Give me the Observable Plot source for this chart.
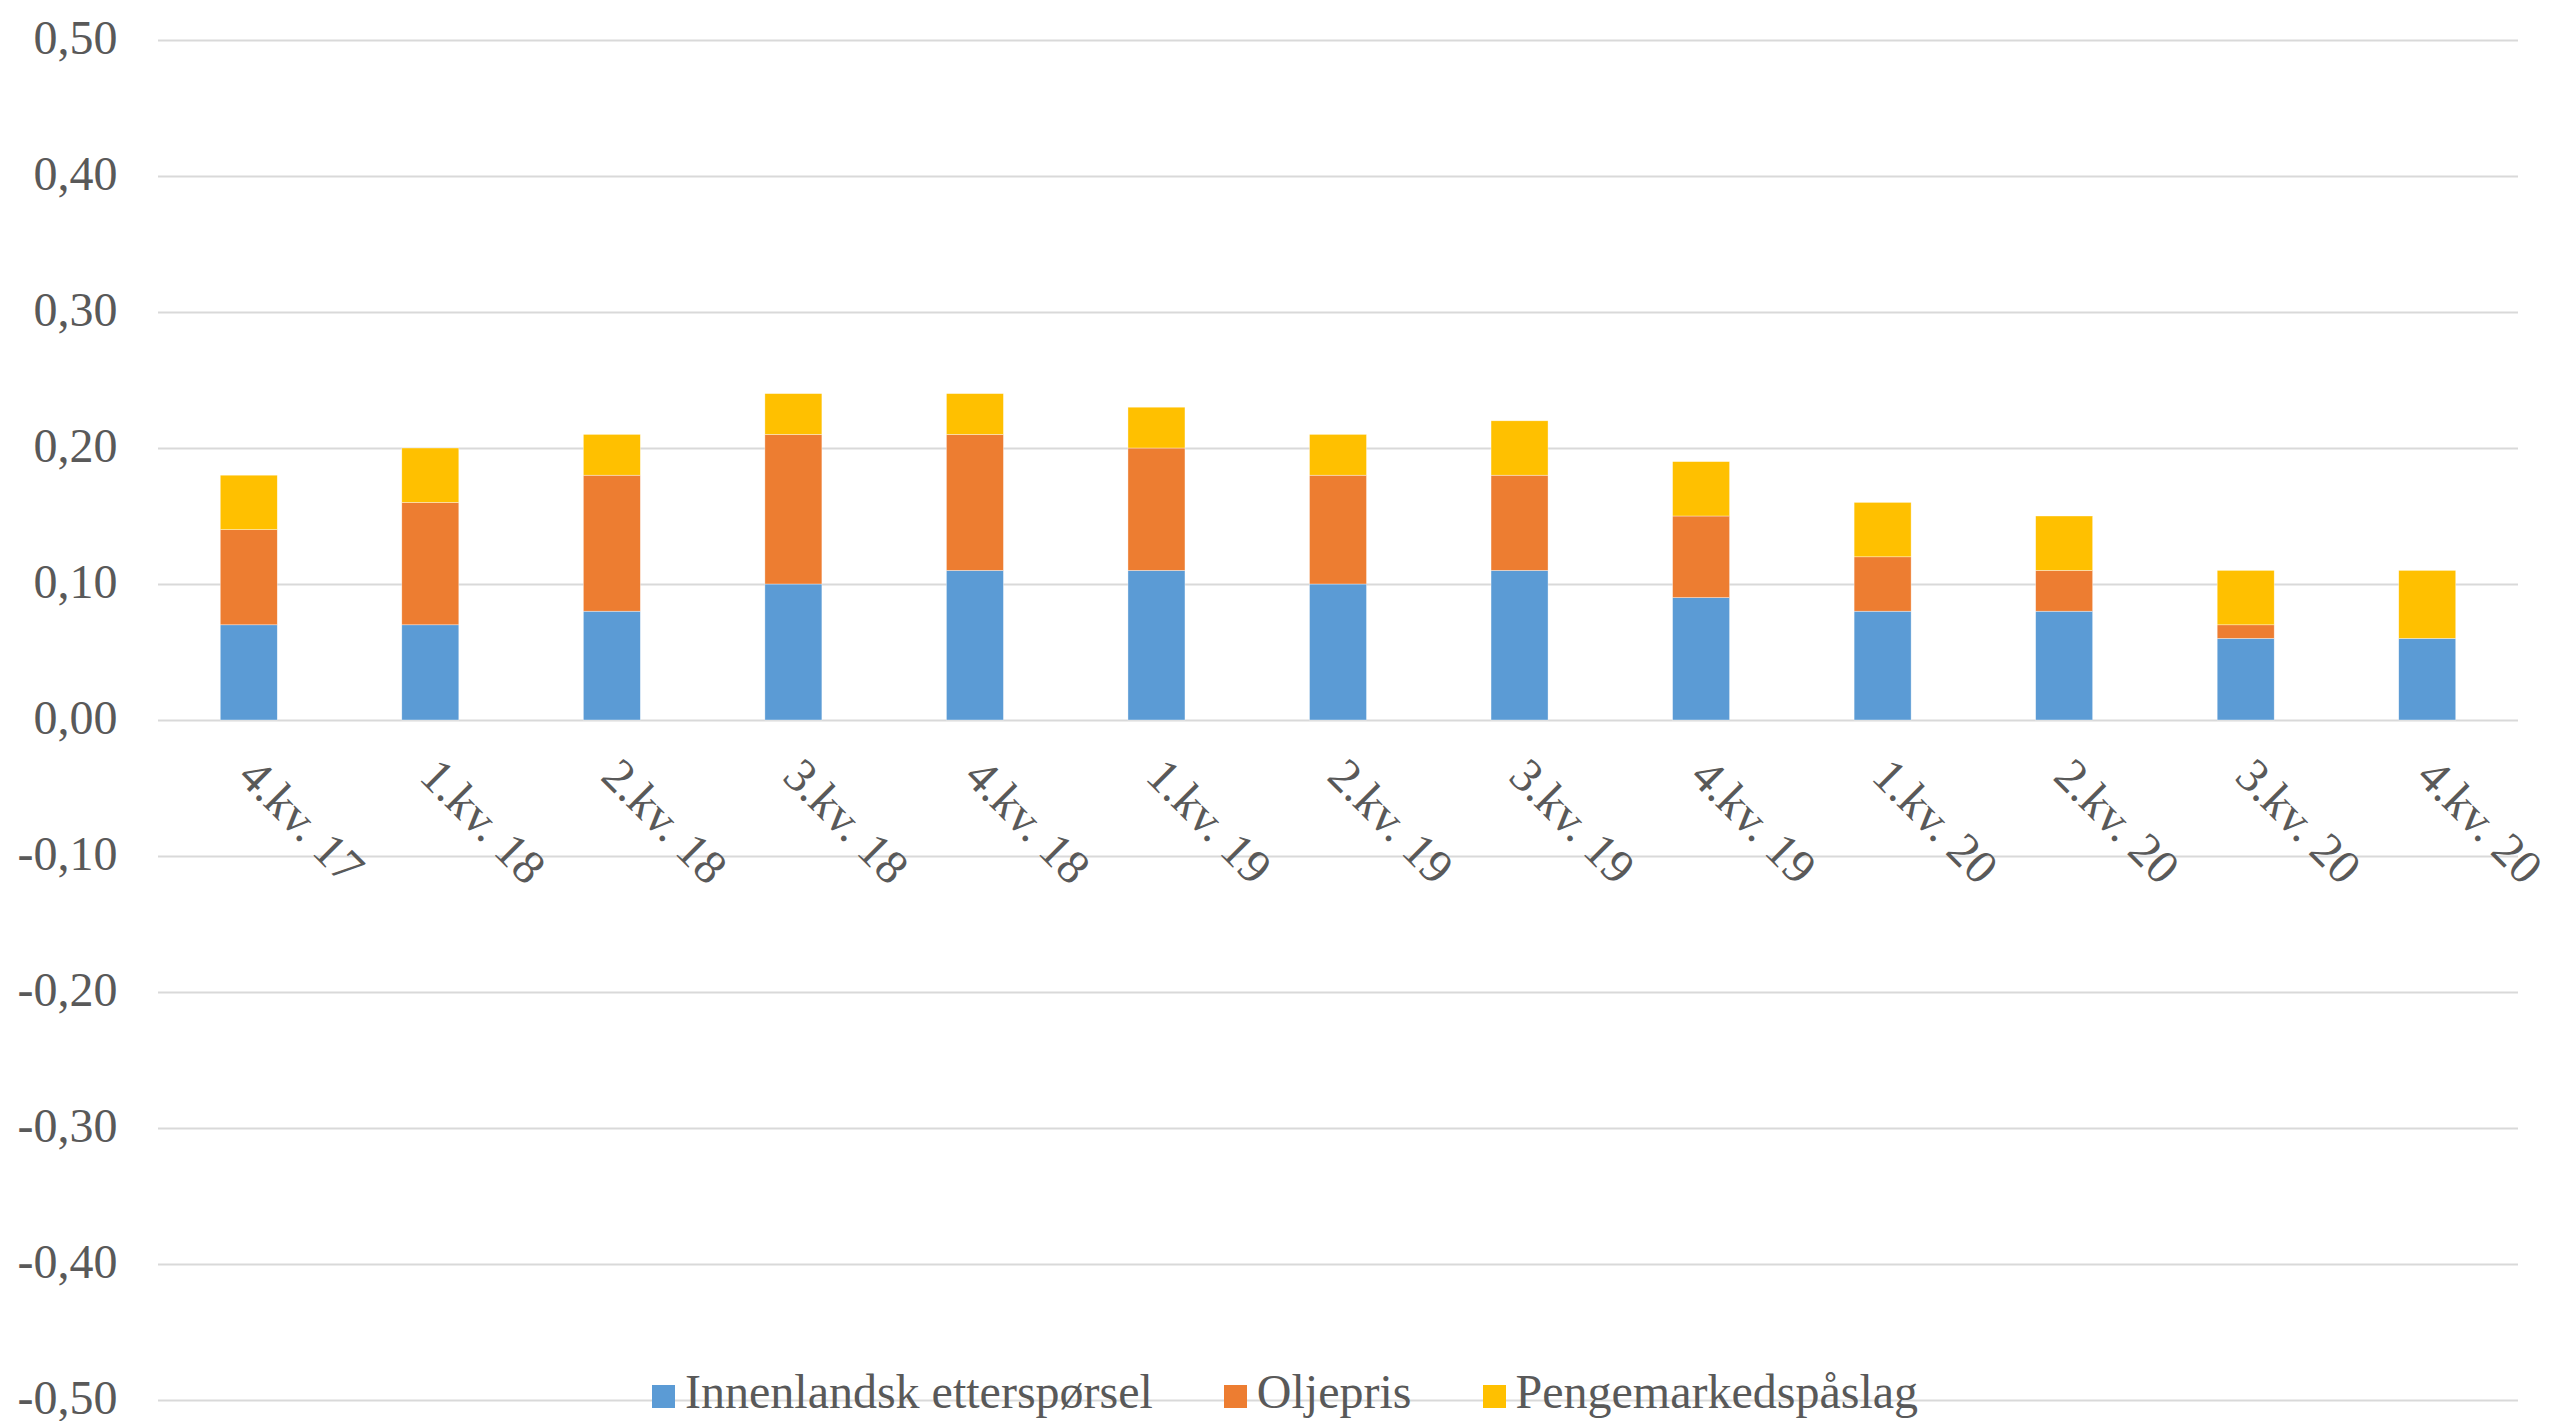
<!DOCTYPE html>
<html>
<head>
<meta charset="utf-8">
<script src="https://cdn.jsdelivr.net/npm/d3@7"></script>
<script src="https://cdn.jsdelivr.net/npm/@observablehq/plot@0.6"></script>
<style>
  html, body { margin: 0; padding: 0; background: #fff; }
  #wrap { position: relative; width: 2560px; height: 1421px; overflow: hidden; }
  #legend {
    position: absolute; left: 652px; top: 1368px;
    display: flex; align-items: center;
    font-family: "Liberation Serif", "Times New Roman", serif;
    font-size: 48px; color: #595959; line-height: 48px;
  }
  #legend .item { display: flex; align-items: center; margin-right: 71px; }
  #legend .sw { width: 23px; height: 23px; margin-right: 10px; margin-top: 8px; }
</style>
</head>
<body>
<div id="wrap"><div id="legend"></div></div>
<script>
const categories = ["4.kv. 17","1.kv. 18","2.kv. 18","3.kv. 18","4.kv. 18","1.kv. 19","2.kv. 19","3.kv. 19","4.kv. 19","1.kv. 20","2.kv. 20","3.kv. 20","4.kv. 20"];
const series = ["Innenlandsk etterspørsel", "Oljepris", "Pengemarkedspåslag"];
const colors = ["#5B9BD5", "#ED7D31", "#FFC000"];
const innenlandsk = [0.07, 0.07, 0.08, 0.10, 0.11, 0.11, 0.10, 0.11, 0.09, 0.08, 0.08, 0.06, 0.06];
const oljepris    = [0.07, 0.09, 0.10, 0.11, 0.10, 0.09, 0.08, 0.07, 0.06, 0.04, 0.03, 0.01, 0.00];
const pengemarked = [0.04, 0.04, 0.03, 0.03, 0.03, 0.03, 0.03, 0.04, 0.04, 0.04, 0.04, 0.04, 0.05];
const yTicks = [-0.5, -0.4, -0.3, -0.2, -0.1, 0, 0.1, 0.2, 0.3, 0.4, 0.5];
const yTickLabels = ["-0,50", "-0,40", "-0,30", "-0,20", "-0,10", "0,00", "0,10", "0,20", "0,30", "0,40", "0,50"];

const valuesBySeries = [innenlandsk, oljepris, pengemarked];
const rows = [];
series.forEach((s, si) => {
  categories.forEach((c, ci) => rows.push({cat: c, series: s, value: valuesBySeries[si][ci]}));
});

const chart = Plot.plot({
  width: 2560,
  height: 1421,
  marginLeft: 158,
  marginRight: 42,
  marginTop: 40,
  marginBottom: 21,
  style: {fontFamily: "'Liberation Serif', 'Times New Roman', serif", background: "white", color: "#595959"},
  x: {domain: categories, paddingInner: 0.686, paddingOuter: 0.343, round: false, axis: null},
  y: {domain: [-0.5, 0.5], axis: null},
  color: {domain: series, range: colors},
  marks: [
    Plot.gridY({ticks: yTicks, stroke: "#D9D9D9", strokeOpacity: 1, strokeWidth: 2}),
    Plot.axisY({
      ticks: yTicks,
      tickSize: 0,
      tickPadding: 41,
      fontSize: 48,
      fill: "#595959",
      label: null,
      dy: -2,
      tickFormat: d => yTickLabels[yTicks.findIndex(t => Math.abs(t - d) < 1e-9)]
    }),
    Plot.barY(rows, {x: "cat", y: "value", fill: "series", order: series, stroke: "white", strokeWidth: 0.6, strokeOpacity: 0.6}),
    Plot.text(categories, {
      x: d => d,
      y: () => 0,
      text: d => d,
      rotate: 45,
      textAnchor: "start",
      lineAnchor: "bottom",
      dx: -13,
      dy: 58,
      fontSize: 48,
      fill: "#595959"
    })
  ]
});

document.getElementById("wrap").prepend(chart);

const legend = document.getElementById("legend");
series.forEach((s, i) => {
  const item = document.createElement("div");
  item.className = "item";
  const sw = document.createElement("span");
  sw.className = "sw";
  sw.style.background = colors[i];
  const label = document.createElement("span");
  label.textContent = s;
  item.append(sw, label);
  legend.append(item);
});
</script>
</body>
</html>
